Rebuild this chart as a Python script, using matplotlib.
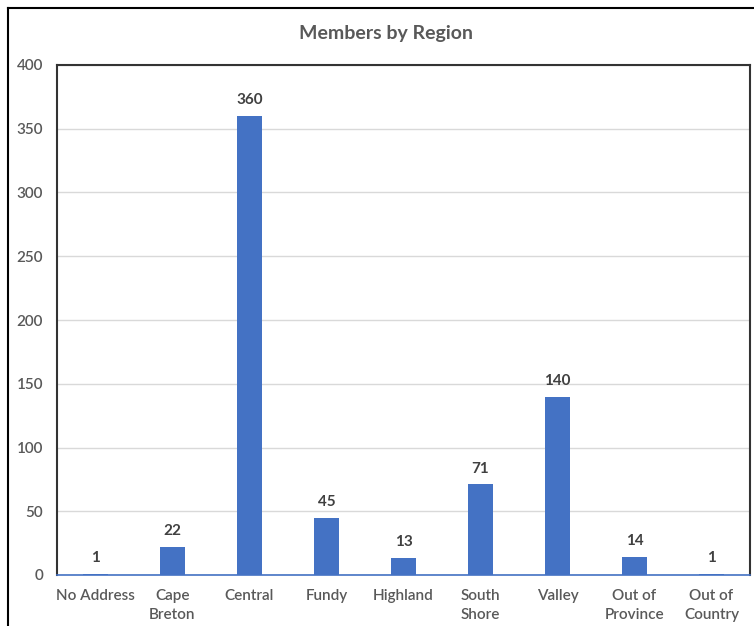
import matplotlib.pyplot as plt
from matplotlib.lines import Line2D

regions = ['No Address', 'Cape\nBreton', 'Central', 'Fundy', 'Highland',
           'South\nShore', 'Valley', 'Out of\nProvince', 'Out of\nCountry']
members = [1, 22, 360, 45, 13, 71, 140, 14, 1]
yticks = [0, 50, 100, 150, 200, 250, 300, 350, 400]

plt.rcParams['font.family'] = ['Lato', 'DejaVu Sans']

W, H = 754, 626
fig = plt.figure(figsize=(W / 100, H / 100), dpi=100)
ax = fig.add_axes([57 / W, 1 - 575 / H, (750 - 57) / W, (575 - 65) / H])

x = range(len(regions))
ax.bar(x, members, width=0.32, color='#4472C4', zorder=3)
for i, v in zip(x, members):
    ax.text(i, v + 7, str(v), ha='center', va='bottom', fontsize=11,
            fontweight='bold', color='#404040')

ax.set_xlim(-0.5, len(regions) - 0.5)
ax.set_ylim(0, 400)
ax.set_yticks(yticks)
ax.set_xticks(list(x))
ax.set_xticklabels(regions, fontsize=11, color='#595959', linespacing=1.45,
                   fontweight='semibold')
ax.tick_params(axis='y', labelsize=11, labelcolor='#595959', length=0, pad=10)
ax.tick_params(axis='x', length=0, pad=10)
for lbl in ax.get_yticklabels():
    lbl.set_fontweight('semibold')
ax.grid(axis='y', color='#D9D9D9', linewidth=1, zorder=0)

for s in ['left', 'top', 'right']:
    ax.spines[s].set_color('#333333')
    ax.spines[s].set_linewidth(1.5)
ax.spines['bottom'].set_color('#4472C4')
ax.spines['bottom'].set_linewidth(1.2)
ax.spines['bottom'].set_zorder(4)

fig.text(386 / W, 1 - 33 / H, 'Members by Region', ha='center', va='center',
         fontsize=14, fontweight='bold', color='#595959')

# outer chart frame
fig.add_artist(Line2D([8 / W, 8 / W], [0, 1 - 8 / H], color='black', lw=1.5))
fig.add_artist(Line2D([8 / W, 1], [1 - 8 / H, 1 - 8 / H], color='black', lw=1.5))

fig.savefig('out.png', dpi=100)
